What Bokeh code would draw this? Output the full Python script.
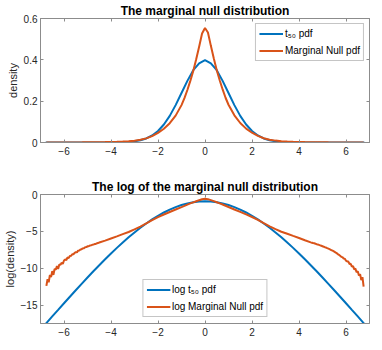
import numpy as np
from bokeh.plotting import figure
from bokeh.models import (FixedTicker, LinearAxis, Legend, LegendItem, Range1d,
                          CustomLabelingPolicy)
from bokeh.layouts import column
from bokeh.embed import file_html
from bokeh.resources import INLINE

# ---------------- data ----------------
x_ticks = [-6, -4, -2, 0, 2, 4, 6]
top_y_ticks = [0, 0.2, 0.4, 0.6]
top_y_labels = {0: "0", 0.2: "0.2", 0.4: "0.4", 0.6: "0.6"}
bot_y_ticks = [-15, -10, -5, 0]

# log of the t_50 pdf, read on the positive half (the curve is symmetric)
t50_x_half = [0, 0.25, 0.5, 0.75, 1.0, 1.25, 1.5, 1.75, 2.0, 2.25, 2.5, 2.75, 3.0,
              3.25, 3.5, 3.75, 4.0, 4.25, 4.5, 4.75, 5.0, 5.25, 5.5, 5.75, 6.0,
              6.25, 6.5, 6.75, 6.78]
t50_log_half = [-0.92, -0.96, -1.05, -1.21, -1.43, -1.71, -2.05, -2.44, -2.89, -3.38,
                -3.93, -4.52, -5.15, -5.81, -6.51, -7.24, -8.00, -8.79, -9.60, -10.42,
                -11.26, -12.12, -12.99, -13.87, -14.75, -15.65, -16.54, -17.44, -17.55]

# log of the marginal null pdf (noisy in the tails)
null_x = [
    -6.75, -6.70, -6.65, -6.60, -6.55, -6.50, -6.45, -6.40, -6.35, -6.30, -6.25, -6.20,
    -6.15, -6.10, -6.05, -6.00, -5.95, -5.90, -5.85, -5.80, -5.75, -5.70, -5.65, -5.60,
    -5.55, -5.50, -5.45, -5.40, -5.35, -5.30, -5.25, -5.20, -5.15, -5.10, -5.05, -5.00,
    -4.95, -4.90, -4.85, -4.80, -4.75, -4.70, -4.65, -4.60, -4.55,
    -4.50, -4.25, -4.00, -3.75, -3.50, -3.25, -3.00, -2.75, -2.50, -2.25, -2.00, -1.75,
    -1.50, -1.25, -1.00, -0.875, -0.75, -0.625, -0.50, -0.375, -0.25, -0.125, 0.0,
    0.125, 0.25, 0.375, 0.50, 0.625, 0.75, 0.875, 1.00, 1.25, 1.50, 1.75, 2.00, 2.25,
    2.50, 2.75, 3.00, 3.25, 3.50, 3.75, 4.00, 4.25, 4.50,
    4.55, 4.60, 4.65, 4.70, 4.75, 4.80, 4.85, 4.90, 4.95, 5.00, 5.05, 5.10, 5.15, 5.20,
    5.25, 5.30, 5.35, 5.40, 5.45, 5.50, 5.55, 5.60, 5.65, 5.70, 5.75, 5.80, 5.85, 5.90,
    5.95, 6.00, 6.05, 6.10, 6.15, 6.20, 6.25, 6.30, 6.35, 6.40, 6.45, 6.50, 6.55, 6.60,
    6.65, 6.70, 6.75]
null_log = [
    -12.4, -11.5, -11.9, -10.9, -11.2, -10.4, -10.9, -10.1, -10.2, -9.7, -10.1, -9.5,
    -9.55, -9.25, -9.4, -8.95, -8.82, -8.88, -8.55, -8.62, -8.35, -8.32, -8.12, -8.1,
    -7.94, -7.82, -7.84, -7.62, -7.6, -7.47, -7.42, -7.31, -7.28, -7.16, -7.14, -7.03,
    -7.02, -6.93, -6.9, -6.83, -6.8, -6.72, -6.7, -6.62, -6.57,
    -6.52, -6.26, -5.97, -5.68, -5.38, -5.09, -4.74, -4.35, -3.92, -3.47, -3.06, -2.71,
    -2.37, -2.04, -1.71, -1.54, -1.37, -1.21, -1.06, -0.91, -0.77, -0.64, -0.59,
    -0.63, -0.76, -0.90, -1.05, -1.20, -1.36, -1.53, -1.70, -2.03, -2.36, -2.70, -3.05, -3.45,
    -3.89, -4.32, -4.70, -5.05, -5.33, -5.62, -5.90, -6.20, -6.49,
    -6.54, -6.59, -6.62, -6.68, -6.74, -6.79, -6.84, -6.9, -6.96, -7.02, -7.08, -7.15, -7.2, -7.28,
    -7.35, -7.42, -7.5, -7.58, -7.66, -7.75, -7.86, -7.95, -8.08, -8.18, -8.3, -8.46, -8.5, -8.7,
    -8.72, -8.98, -9.08, -9.1, -9.42, -9.4, -9.78, -9.72, -10.15, -10.05, -10.55, -10.4, -11.0, -10.8,
    -11.6, -11.2, -12.5]

# full symmetric t50 curve
t50_x = [-v for v in t50_x_half[::-1]] + t50_x_half[1:]
t50_log = t50_log_half[::-1] + t50_log_half[1:]
t50_pdf = list(np.exp(t50_log))
null_pdf = list(np.exp(null_log))

# ---------------- style ----------------
FONT = "Liberation Sans"
AX = "#8c8c8c"
TXT = "#262626"
BLUE = "#0072BD"
ORANGE = "#D95319"
W = 373

NO_LABELS = CustomLabelingPolicy(code="""
try {
  for (const i of Array.from(indices)) { indices.unset(i) }
} catch (e) {}
return indices
""")


def style_axis(ax, ticks, show_labels=True):
    ax.ticker = FixedTicker(ticks=ticks)
    ax.major_tick_in = 3
    ax.major_tick_out = 0
    ax.minor_tick_line_color = None
    ax.axis_line_color = AX
    ax.major_tick_line_color = AX
    ax.major_label_text_font = FONT
    ax.major_label_text_color = TXT
    if show_labels:
        ax.major_label_text_font_size = "10px"
        ax.major_label_standoff = 4
    else:
        ax.major_label_text_font_size = "0px"
        ax.major_label_standoff = 0
        ax.major_label_policy = NO_LABELS


def make_fig(title, yr, yticks, ylabel, height, mb_top, frame_h):
    p = figure(width=W, height=height, x_range=Range1d(-7, 7), y_range=Range1d(*yr),
               output_backend="svg", toolbar_location=None, title=title,
               min_border_left=34, min_border_right=4, min_border_top=mb_top,
               min_border_bottom=height - mb_top - frame_h)
    p.background_fill_color = "white"
    p.border_fill_color = "white"
    p.xgrid.visible = False
    p.ygrid.visible = False
    p.outline_line_color = AX
    p.outline_line_width = 1
    p.title.text_font = FONT
    p.title.text_font_size = "12px"
    p.title.text_font_style = "bold"
    p.title.text_color = "black"
    p.title.align = "center"
    p.title.standoff = 2
    style_axis(p.xaxis[0], x_ticks)
    style_axis(p.yaxis[0], yticks)
    p.yaxis[0].axis_label = ylabel
    p.yaxis[0].axis_label_text_font = FONT
    p.yaxis[0].axis_label_text_font_size = "11px"
    p.yaxis[0].axis_label_text_font_style = "normal"
    p.yaxis[0].axis_label_text_color = TXT
    p.yaxis[0].axis_label_standoff = 2
    p.yaxis[0].major_label_standoff = 3
    top_ax = LinearAxis()
    style_axis(top_ax, x_ticks, show_labels=False)
    p.add_layout(top_ax, "above")
    right_ax = LinearAxis()
    style_axis(right_ax, yticks, show_labels=False)
    p.add_layout(right_ax, "right")
    return p


def make_legend(items, location, margin):
    return Legend(items=items, location=location, margin=margin,
                  border_line_color=AX, border_line_width=1,
                  background_fill_color="white", background_fill_alpha=1.0,
                  label_text_font=FONT, label_text_font_size="10px", label_text_color="black",
                  glyph_width=24, glyph_height=13, label_height=13, label_standoff=2,
                  spacing=4, padding=3)


# ---------------- top plot ----------------
p1 = make_fig("The marginal null distribution", (0, 0.6), top_y_ticks, "density",
              173, 13, 129)
p1.yaxis[0].major_label_overrides = top_y_labels
b1 = p1.line(t50_x, t50_pdf, line_color=BLUE, line_width=2)
o1 = p1.line(null_x, null_pdf, line_color=ORANGE, line_width=2)
p1.add_layout(make_legend([LegendItem(label="t\u2085\u2080 pdf", renderers=[b1]),
                           LegendItem(label="Marginal Null pdf", renderers=[o1])],
                          "top_right", 5))

# ---------------- bottom plot ----------------
p2 = make_fig("The log of the marginal null distribution", (-17.5, 0), bot_y_ticks,
              "log(density)", 168, 21, 129)
b2 = p2.line(t50_x, t50_log, line_color=BLUE, line_width=2)
o2 = p2.line(null_x, null_log, line_color=ORANGE, line_width=2)
p2.add_layout(make_legend([LegendItem(label="log t\u2085\u2080 pdf", renderers=[b2]),
                           LegendItem(label="log Marginal Null pdf", renderers=[o2])],
                          "bottom_center", 6))

layout = column(p1, p2, spacing=0)
open("out.html", "w").write(file_html(layout, INLINE))
